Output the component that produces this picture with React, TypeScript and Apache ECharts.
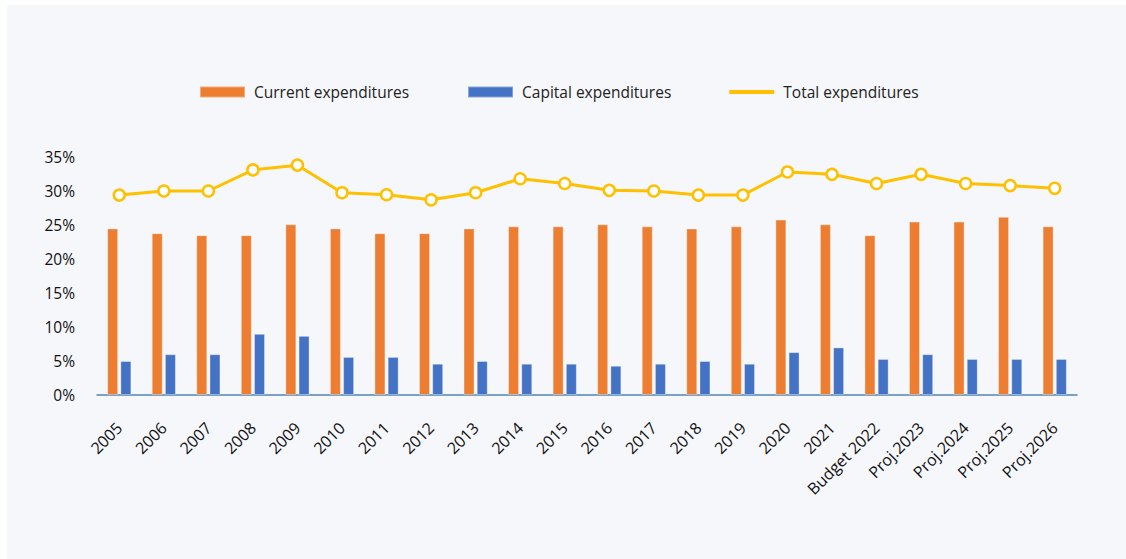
import React, { useEffect, useRef } from "react";
import * as echarts from "echarts";

const categories = [
  "2005", "2006", "2007", "2008", "2009", "2010", "2011", "2012", "2013", "2014",
  "2015", "2016", "2017", "2018", "2019", "2020", "2021", "Budget 2022",
  "Proj.2023", "Proj.2024", "Proj.2025", "Proj.2026",
];

const currentExp = [
  24.5, 23.8, 23.5, 23.5, 25.1, 24.5, 23.8, 23.8, 24.5, 24.8,
  24.8, 25.1, 24.8, 24.5, 24.8, 25.8, 25.1, 23.5, 25.5, 25.5, 26.2, 24.8,
];

const capitalExp = [
  5.0, 6.0, 6.0, 9.0, 8.7, 5.6, 5.6, 4.6, 5.0, 4.6,
  4.6, 4.3, 4.6, 5.0, 4.6, 6.3, 7.0, 5.3, 6.0, 5.3, 5.3, 5.3,
];

const totalExp = [
  29.4, 30.0, 30.0, 33.1, 33.8, 29.75, 29.45, 28.7, 29.75, 31.8,
  31.1, 30.1, 30.0, 29.4, 29.4, 32.8, 32.45, 31.1, 32.45, 31.1, 30.8, 30.4,
];

const yTicks = [0, 5, 10, 15, 20, 25, 30, 35];

const FONT = "'Open Sans', 'Noto Sans', sans-serif";

export default function App() {
  const ref = useRef<HTMLDivElement>(null);

  useEffect(() => {
    if (!ref.current) return;
    const chart = echarts.init(ref.current, null, { renderer: "svg" });
    chart.setOption({
      animation: false,
      backgroundColor: "transparent",
      textStyle: { fontFamily: FONT },
      legend: {
        top: 79,
        left: 194,
        itemWidth: 45,
        itemHeight: 11,
        itemGap: 58,
        textStyle: { fontSize: 15.5, color: "#222", fontFamily: FONT, padding: [0, 0, 0, 4] },
        data: [
          { name: "Current expenditures", icon: "rect" },
          { name: "Capital expenditures", icon: "rect" },
          {
            name: "Total expenditures",
            icon: "path://M0,0 M0,3.5 L45,3.5 L45,7.5 L0,7.5 Z M45,11",
            itemStyle: { color: "#FFC000", borderWidth: 0 },
          },
        ],
      },
      grid: { left: 97, right: 49, top: 157, bottom: 164, containLabel: false },
      xAxis: {
        type: "category",
        data: categories,
        axisLine: { lineStyle: { color: "#4f86b8", width: 1.5 } },
        axisTick: { show: false },
        axisLabel: {
          rotate: 45,
          interval: 0,
          fontSize: 16,
          color: "#111",
          margin: 30,
          fontFamily: FONT,
        },
      },
      yAxis: {
        type: "value",
        min: 0,
        max: 35,
        interval: 5,
        splitLine: { show: false },
        axisLine: { show: false },
        axisTick: { show: false },
        axisLabel: {
          fontSize: 15.5,
          color: "#111",
          margin: 22,
          fontFamily: FONT,
          formatter: (v: number) => (yTicks.includes(v) ? v + "%" : ""),
        },
      },
      series: [
        {
          name: "Current expenditures",
          type: "bar",
          data: currentExp,
          barWidth: 11,
          barGap: "20%",
          itemStyle: { color: "#ED7D31", borderColor: "rgba(255,255,255,0.35)", borderWidth: 1 },
        },
        {
          name: "Capital expenditures",
          type: "bar",
          data: capitalExp,
          barWidth: 11,
          barGap: "20%",
          itemStyle: { color: "#4472C4", borderColor: "rgba(255,255,255,0.35)", borderWidth: 1 },
        },
        {
          name: "Total expenditures",
          type: "line",
          data: totalExp,
          symbol: "circle",
          symbolSize: 11,
          lineStyle: { color: "#FFC000", width: 3 },
          itemStyle: { color: "#ffffff", borderColor: "#FFC000", borderWidth: 2.5 },
          z: 5,
        },
      ],
    });
    return () => chart.dispose();
  }, []);

  return (
    <div style={{ position: "fixed", left: 0, top: 0, width: 1126, height: 559, background: "#ffffff" }}>
      <div style={{ position: "absolute", left: 7, top: 5, right: 0, bottom: 0, background: "#f6f7fb" }} />
      <div ref={ref} style={{ position: "absolute", left: 0, top: 0, width: 1126, height: 559 }} />
    </div>
  );
}
